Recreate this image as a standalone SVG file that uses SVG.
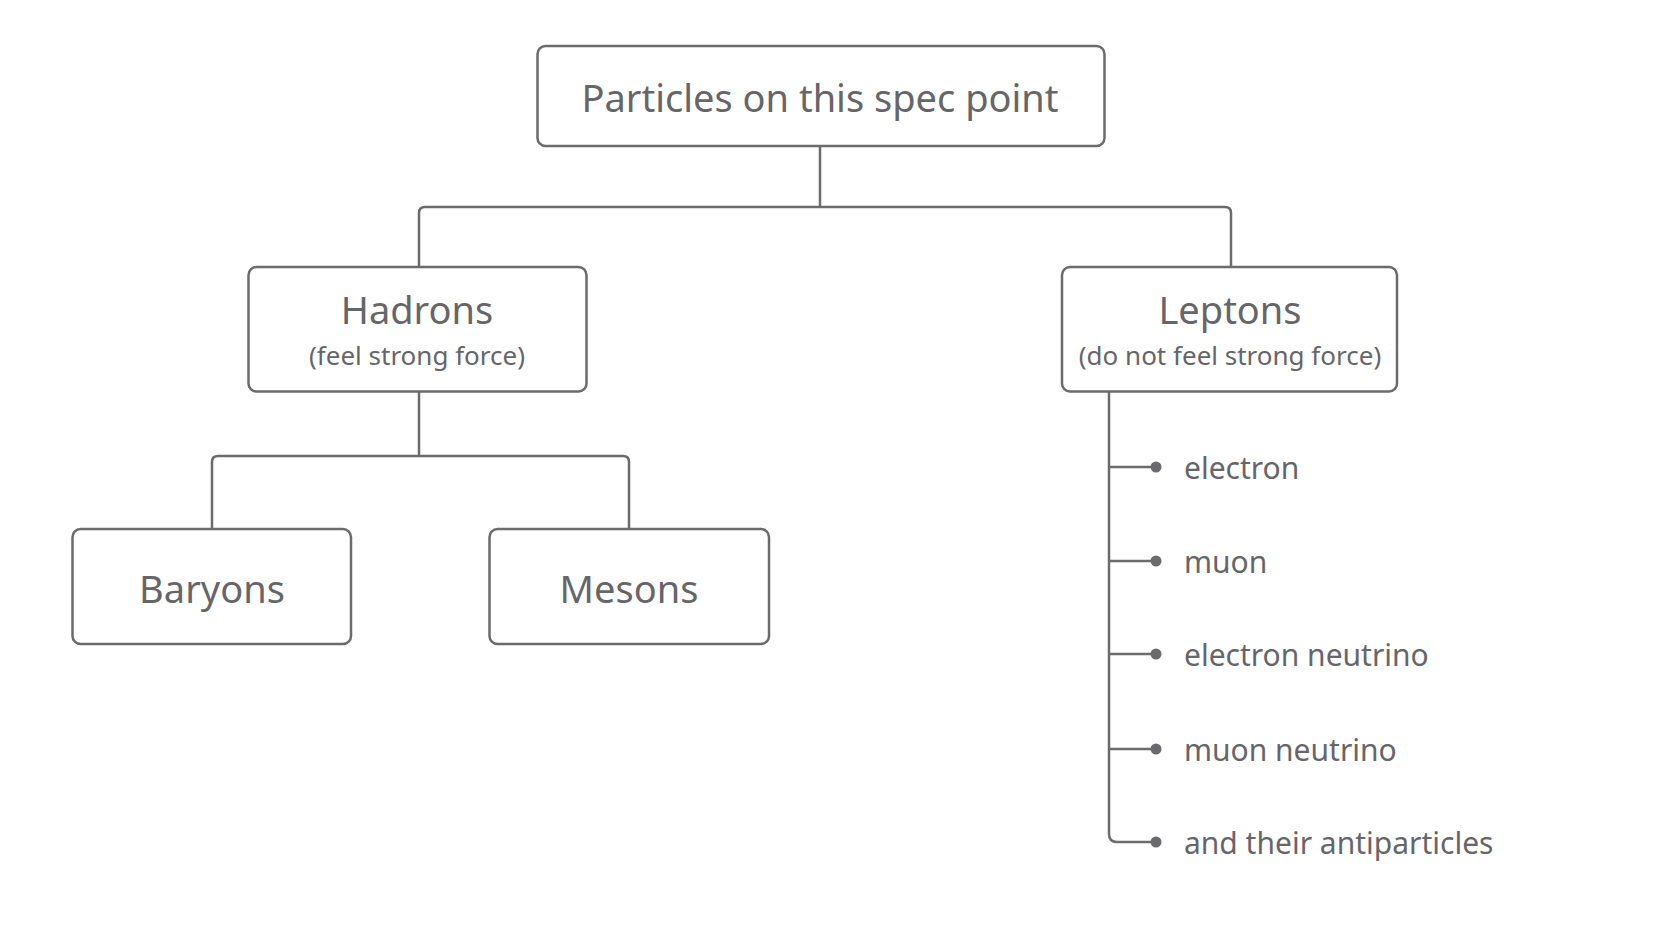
<svg xmlns="http://www.w3.org/2000/svg" width="1672" height="941" viewBox="0 0 1672 941">
<style>
.box{fill:#fff;stroke:#6b6b6e;stroke-width:2.5}
.ln{fill:none;stroke:#6b6b6e;stroke-width:2.5}
text{font-family:"Noto Sans","Open Sans",sans-serif;fill:#666669;text-anchor:middle;dominant-baseline:central}
.big{font-size:38px}
.sub{font-size:26px}
.item{font-size:30px;text-anchor:start}
.dot{fill:#6b6b6e}
</style>
<rect width="1672" height="941" fill="#fff"/>
<g id="connectors">
<path class="ln" d="M820,146 V207 M419,267 V213 Q419,207 425,207 H1225 Q1231,207 1231,213 V267"/>
<path class="ln" d="M419,391 V456 M212,529 V462 Q212,456 218,456 H623 Q629,456 629,462 V529"/>
<path class="ln" d="M1109,391 V834 Q1109,842 1117,842 H1156 M1109,467 H1156 M1109,561 H1156 M1109,654 H1156 M1109,749 H1156"/>
<circle class="dot" cx="1156" cy="467" r="5.5"/>
<circle class="dot" cx="1156" cy="561" r="5.5"/>
<circle class="dot" cx="1156" cy="654" r="5.5"/>
<circle class="dot" cx="1156" cy="749" r="5.5"/>
<circle class="dot" cx="1156" cy="842" r="5.5"/>
</g>
<g id="root"><rect class="box" x="537.5" y="46" width="567" height="100" rx="8"/><text class="big" x="820" y="97">Particles on this spec point</text></g>
<g id="hadrons"><rect class="box" x="248.5" y="267" width="338" height="124.5" rx="8"/><text class="big" x="417" y="309">Hadrons</text><text class="sub" x="417" y="355">(feel strong force)</text></g>
<g id="leptons"><rect class="box" x="1062" y="267" width="335" height="124.5" rx="8"/><text class="big" x="1230" y="309">Leptons</text><text class="sub" x="1230" y="355">(do not feel strong force)</text></g>
<g id="baryons"><rect class="box" x="72.5" y="529" width="278.5" height="115" rx="8"/><text class="big" x="212" y="588">Baryons</text></g>
<g id="mesons"><rect class="box" x="489.5" y="529" width="279.5" height="115" rx="8"/><text class="big" x="629" y="588">Mesons</text></g>
<g id="items">
<text class="item" x="1184" y="467">electron</text>
<text class="item" x="1184" y="561">muon</text>
<text class="item" x="1184" y="654">electron neutrino</text>
<text class="item" x="1184" y="749">muon neutrino</text>
<text class="item" x="1184" y="842">and their antiparticles</text>
</g>
</svg>
